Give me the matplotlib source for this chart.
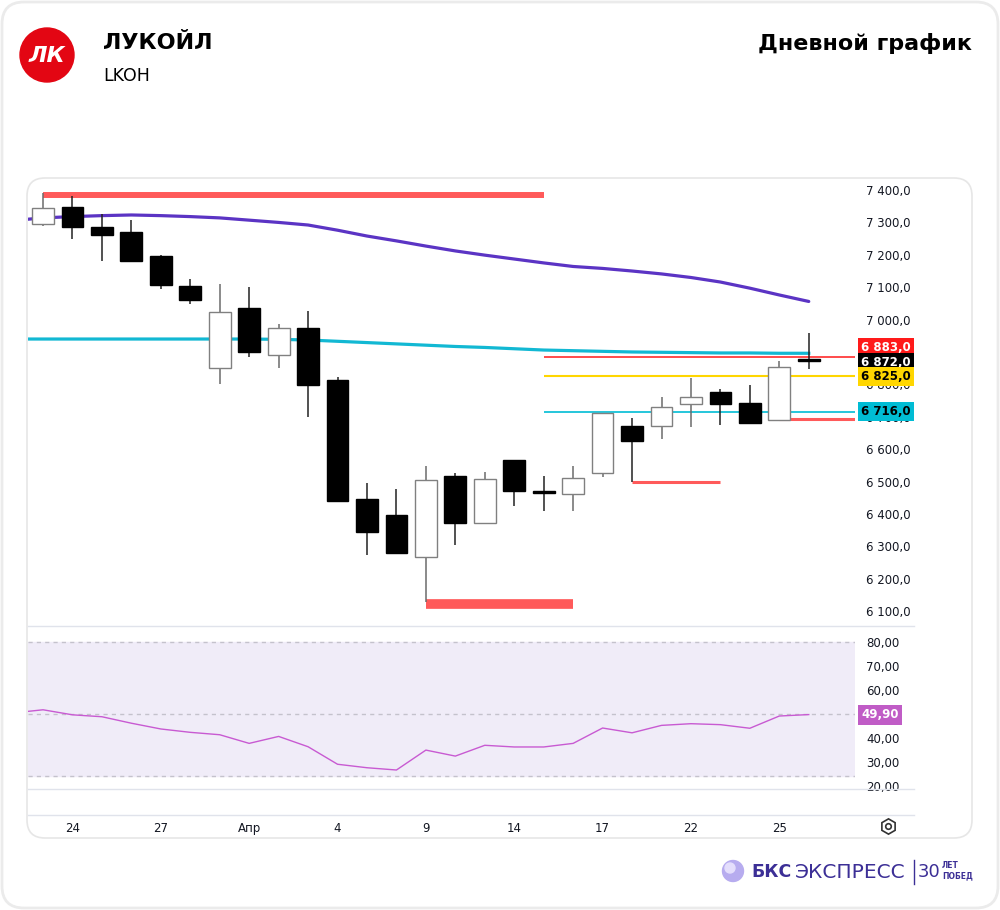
import numpy as np
import matplotlib.pyplot as plt
from matplotlib.patches import FancyBboxPatch, Circle
from matplotlib.lines import Line2D
import matplotlib.transforms as mtransforms
from matplotlib.ticker import FuncFormatter

# daily candles, LKOH
opens = [7296, 7347, 7287, 7271, 7196, 7105, 6850, 7035, 6890, 6974, 6815, 6445, 6396, 6266,
         6516, 6373, 6568, 6470, 6463, 6525, 6672, 6672, 6740, 6775, 6743, 6690, 6878]
highs = [7392, 7382, 7326, 7306, 7200, 7126, 7110, 7101, 6986, 7026, 6822, 6496, 6476, 6548,
         6525, 6530, 6568, 6517, 6548, 6713, 6695, 6762, 6819, 6787, 6798, 6872, 6959]
lows = [7290, 7249, 7182, 7179, 7095, 7047, 6800, 6885, 6849, 6698, 6440, 6274, 6276, 6128,
        6304, 6373, 6426, 6408, 6408, 6515, 6500, 6630, 6669, 6676, 6677, 6690, 6847]
closes = [7343, 7287, 7261, 7182, 7106, 7060, 7024, 6901, 6973, 6799, 6441, 6345, 6280, 6505,
          6372, 6507, 6471, 6466, 6511, 6713, 6626, 6729, 6762, 6740, 6680, 6853, 6872]

# moving averages (first value is the day before the visible range)
ma_purple = [7306, 7314, 7318, 7321, 7323, 7321, 7318, 7314, 7307, 7300, 7292, 7276, 7258, 7243,
             7227, 7212, 7199, 7187, 7175, 7164, 7158, 7150, 7141, 7130, 7116, 7097, 7076, 7056]
ma_cyan = [6940, 6940, 6940, 6940, 6940, 6940, 6940, 6940, 6940, 6939, 6937, 6933, 6929, 6925,
           6921, 6917, 6914, 6910, 6906, 6904, 6902, 6900, 6899, 6898, 6897, 6897, 6896, 6896]

rsi = [50.6, 51.9, 49.8, 49.0, 46.3, 43.9, 42.5, 41.5, 37.9, 40.8, 36.5, 29.2, 27.75, 26.8,
       35.1, 32.6, 37.1, 36.4, 36.4, 37.9, 44.3, 42.3, 45.4, 46.1, 45.7, 44.2, 49.3, 49.9]

date_pos = [1, 4, 7, 10, 13, 16, 19, 22, 25]
date_labels = ['24', '27', 'Апр', '4', '9', '14', '17', '22', '25']

# support / resistance zones: (price, start index, end index or None = to the edge, colour, width)
levels = [
    (7385, 0, 17, '#ff5a5a', 4.3),
    (6122, 13, 18, '#ff5a5a', 7.0),
    (6500, 20, 23, '#ff5a5a', 2.2),
    (6693, 25, None, '#ff5a5a', 2.2),
    (6883, 17, None, '#ff1a1a', 1.1),
    (6825, 17, None, '#ffd600', 1.5),
    (6716, 17, None, '#00bcd4', 1.2),
]
price_tags = [(6883, 'white', '#ff1a1a', 7), (6872, 'white', '#000000', -1),
              (6825, 'black', '#ffd600', 0), (6716, 'black', '#00bcd4', 0)]
rsi_last = 49.9

TXT = '#131722'
XL = (-0.51, 27.57)

fig = plt.figure(figsize=(10, 9.1), dpi=100)
fig.patch.set_facecolor('white')

# outer frame and chart card
fig.add_artist(FancyBboxPatch((2, 2), 996, 906, boxstyle='round,pad=0,rounding_size=22',
                              transform=None, fc='white', ec='#ebebeb', lw=2, zorder=0))
fig.add_artist(FancyBboxPatch((27, 72), 945, 660, boxstyle='round,pad=0,rounding_size=18',
                              transform=None, fc='white', ec='#e6e6e6', lw=1.2, zorder=0))

ax = fig.add_axes([0.028, 0.3121, 0.827, 0.4901])
ax2 = fig.add_axes([0.028, 0.1330, 0.827, 0.1780])
for a in (ax, ax2):
    a.set_xlim(*XL)
    for s in a.spines.values():
        s.set_visible(False)
    a.patch.set_alpha(0)
    a.yaxis.tick_right()
    a.tick_params(axis='y', length=0, pad=8, labelsize=8.5, colors=TXT)

# candles
x = np.arange(len(opens))
for i in x:
    o, h, l, c = opens[i], highs[i], lows[i], closes[i]
    up = c >= o
    wick_col = '#6b6b6b' if up else '#222222'
    ax.vlines(i, l, h, color=wick_col, lw=1.1, zorder=3)
    lo, hi = min(o, c), max(o, c)
    ax.bar(i, max(hi - lo, 2.5), bottom=lo, width=0.74, color='white' if up else 'black',
           edgecolor='#808080' if up else 'black', lw=1.0, zorder=4)

xm = np.arange(-1, len(opens))
ax.plot(xm, ma_purple, color='#5b34c4', lw=2.3, zorder=2, solid_capstyle='round')
ax.plot(xm, ma_cyan, color='#12b8d3', lw=2.3, zorder=2)

for p, s, e, col, w in levels:
    e = XL[1] if e is None else e
    ax.hlines(p, s, e, color=col, lw=w, zorder=2.5)

ax.set_ylim(6054, 7431)
ax.set_yticks(np.arange(6100, 7401, 100))
ax.yaxis.set_major_formatter(FuncFormatter(lambda v, _: f'{int(v) // 1000} {int(v) % 1000:03d},0'))
ax.set_xticks([])

trans = mtransforms.blended_transform_factory(ax.transAxes, ax.transData)
for p, tc, bc, dy in price_tags:
    s = f'{p // 1000} {p % 1000:03d},0'
    ax.annotate(s, xy=(1.0, p), xycoords=trans, xytext=(4.5, dy), textcoords='offset points',
                ha='left', va='center', fontsize=8.5, fontweight='bold', color=tc,
                bbox=dict(boxstyle='square,pad=0.25', fc=bc, ec='none'),
                annotation_clip=False, zorder=10)

# RSI panel
ax2.set_ylim(18.9, 86.4)
ax2.axhspan(24.3, 80, color='#f0ecf8', zorder=0)
for lvl in (80, 50, 24.3):
    ax2.axhline(lvl, color='#c4c2cc', lw=1, ls=(0, (3, 3)), zorder=1)
ax2.plot(xm, rsi, color='#c85ad2', lw=1.0, zorder=3)
ax2.set_yticks(np.arange(20, 81, 10))
ax2.yaxis.set_major_formatter(FuncFormatter(lambda v, _: f'{v:.2f}'.replace('.', ',')))
trans2 = mtransforms.blended_transform_factory(ax2.transAxes, ax2.transData)
ax2.annotate(f'{rsi_last:.2f}'.replace('.', ','), xy=(1.0, rsi_last), xycoords=trans2,
             xytext=(4.5, 0), textcoords='offset points', ha='left', va='center',
             fontsize=8.5, fontweight='bold', color='white',
             bbox=dict(boxstyle='square,pad=0.3', fc='#c05cc6', ec='none'),
             annotation_clip=False, zorder=10)

ax2.set_xticks(date_pos)
ax2.set_xticklabels(date_labels)
ax2.tick_params(axis='x', length=0, pad=24, labelsize=8.5, colors=TXT)

# separators
for yy in (626, 789, 815):
    fig.add_artist(Line2D([28 / 1000, 914 / 1000], [1 - yy / 910] * 2, color='#e0e3eb', lw=1))

# eye icon
fig.add_artist(Line2D([888 / 1000], [1 - 826 / 910], marker='h', ms=11, mfc='none', mec='#333', mew=1.2))
fig.add_artist(Line2D([888 / 1000], [1 - 826 / 910], marker='o', ms=4, mfc='none', mec='#333', mew=1.2))

# header
fig.add_artist(Circle((47, 910 - 55), 27, transform=None, color='#e30613'))
fig.text(47 / 1000, 1 - 56 / 910, 'ЛК', color='white', fontsize=16, fontweight='bold',
         ha='center', va='center', style='italic')
fig.text(103 / 1000, 1 - 43 / 910, 'ЛУКОЙЛ', fontsize=16, fontweight='bold', color='black', va='center')
fig.text(103 / 1000, 1 - 76 / 910, 'LKOH', fontsize=12.5, color='black', va='center')
fig.text(972 / 1000, 1 - 43 / 910, 'Дневной график', fontsize=16, fontweight='bold',
         color='black', va='center', ha='right')

# footer logo
fig.add_artist(Circle((733, 910 - 871), 10.5, transform=None, color='#b7acef'))
fig.add_artist(Circle((730, 910 - 868), 5, transform=None, color='#e4defc'))
fig.text(751 / 1000, 1 - 872 / 910, 'БКС', fontsize=12.5, fontweight='bold', color='#3c2f96', va='center')
fig.text(795 / 1000, 1 - 872 / 910, 'ЭКСПРЕСС', fontsize=14.5, color='#3c2f96', va='center')
fig.add_artist(Line2D([914 / 1000] * 2, [1 - 860 / 910, 1 - 884 / 910], color='#3c2f96', lw=1))
fig.text(918 / 1000, 1 - 872 / 910, '30', fontsize=13, color='#3c2f96', va='center')
fig.text(942 / 1000, 1 - 866 / 910, 'ЛЕТ', fontsize=5.5, color='#3c2f96', va='center', fontweight='bold')
fig.text(942 / 1000, 1 - 876 / 910, 'ПОБЕД', fontsize=5.5, color='#3c2f96', va='center', fontweight='bold')

plt.savefig('out.png', dpi=100)
plt.close()
